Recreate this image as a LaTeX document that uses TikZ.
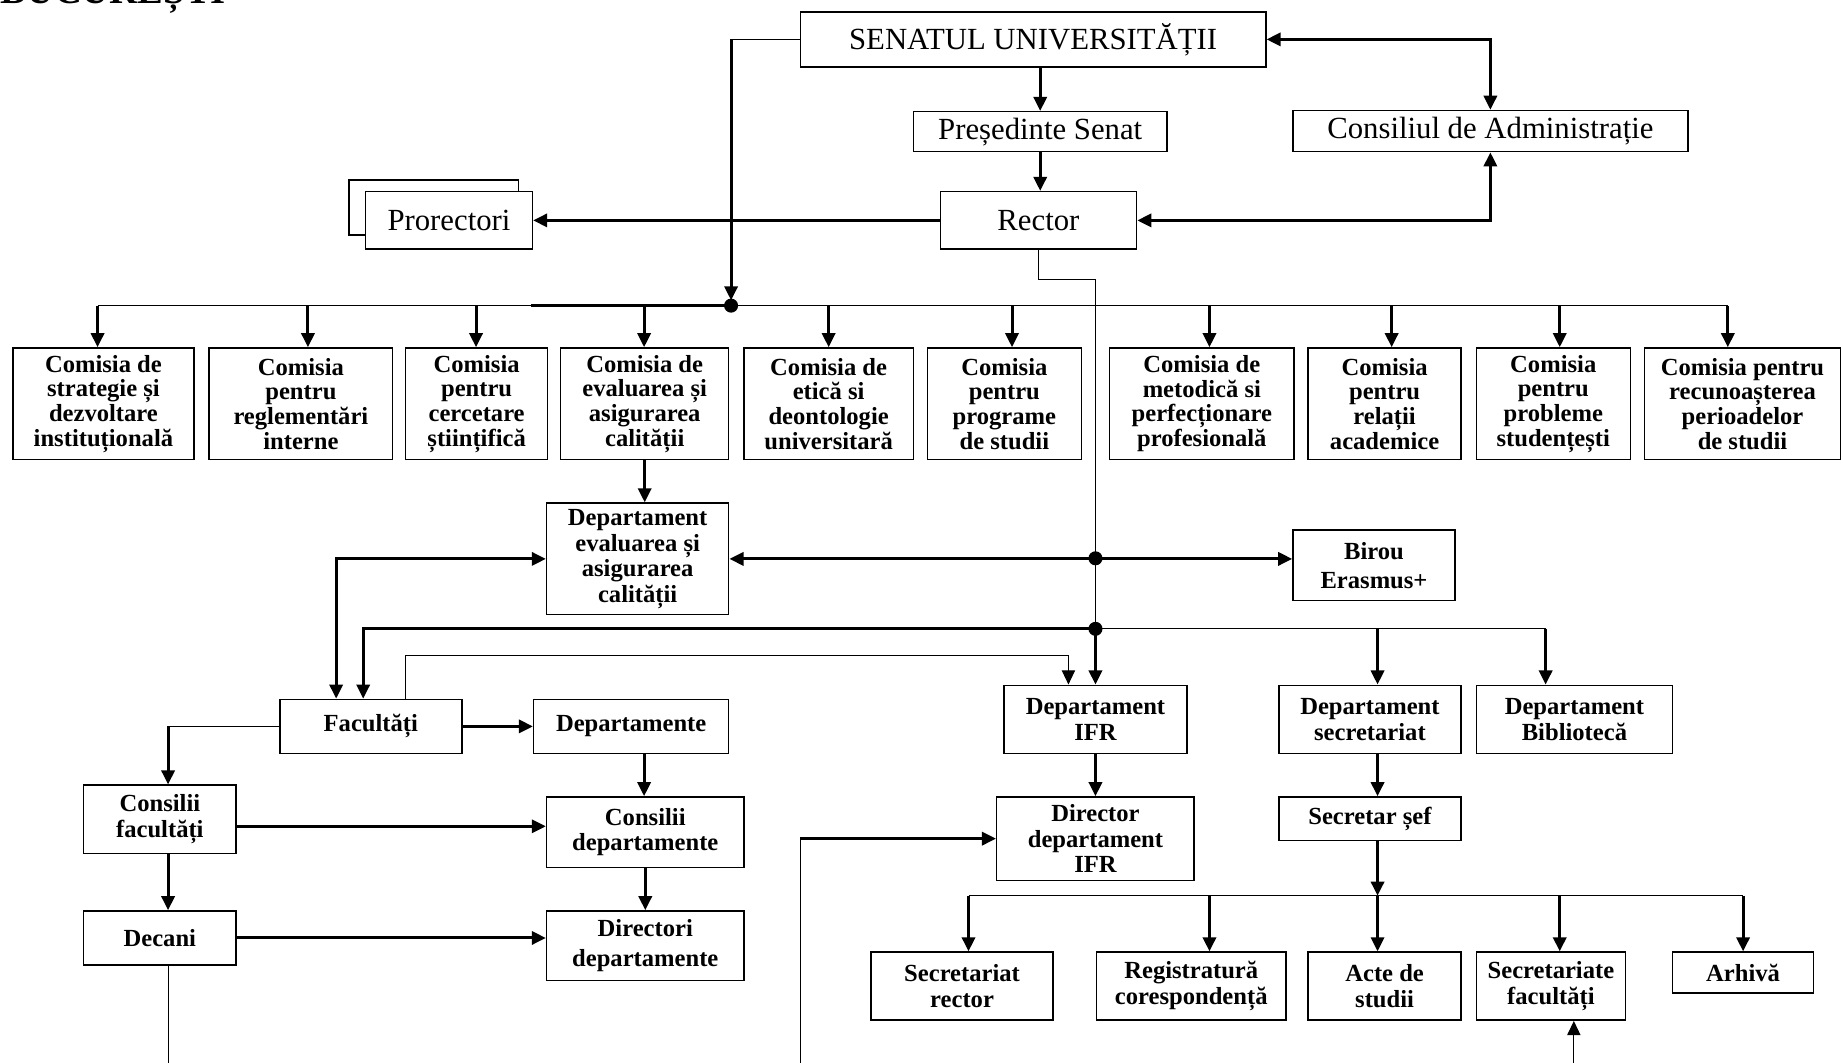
\documentclass[tikz,border=0pt]{standalone}
\usepackage{fontspec}
\setmainfont{Liberation Serif}
\usetikzlibrary{arrows.meta}

\newcommand{\pxu}{0.6689pt}
\newcommand{\topfont}{\fontsize{17.5}{20}\selectfont}
\newcommand{\comfont}{\bfseries\fontsize{14}{14}\selectfont}
\newcommand{\depfont}{\bfseries\fontsize{14}{14.5}\selectfont}

\tikzset{
  box/.style={draw, line width=0.85pt, fill=white, inner sep=0pt, align=center},
  topbox/.style={box, font=\topfont},
  combox/.style={box, font=\comfont},
  depbox/.style={box, font=\depfont},
  sz/.style 2 args={minimum width=#1*\pxu, minimum height=#2*\pxu},
  heavy/.style={line width=1.7pt},
  light/.style={line width=0.6pt},
  >={Triangle[length=8pt,width=7.5pt]}
}

\begin{document}
\begin{tikzpicture}[x=0.02351cm, y=-0.02351cm]
    \useasboundingbox (0,0) rectangle (1568,904);
    \node[anchor=base west, inner sep=0pt, font=\bfseries\fontsize{22}{22}\selectfont] (titlu) at (0,3) {BUCUREȘTI};

    % conducere
    \node[topbox, sz={396}{47}] (senat) at (879,33.5) {SENATUL UNIVERSITĂȚII};
    \node[topbox, sz={216}{34}] (pres) at (885,112) {Președinte Senat};
    \node[topbox, sz={336}{35}] (cadm) at (1268,111.5) {Consiliul de Administrație};
    \node[topbox, sz={167}{49}] (rector) at (883.5,187.5) {Rector};
    \node[topbox, sz={144}{47}] (prorectB) at (369,176.5) {};
    \node[topbox, sz={142}{49}] (prorect) at (382,187.5) {Prorectori};

    \draw[heavy,->] (pres.north |- senat.south) -- (pres.north);
    \draw[heavy,->] (pres.south) -- (pres.south |- rector.north);
    \draw[heavy,<->] (senat.east) -| (cadm.north);
    \draw[heavy,<->] (rector.east) -| (cadm.south);
    \draw[heavy,->] (rector.west) -- (prorect.east);

    % comisii
    \node[combox, sz={154}{95}] (c1) at (88,343.5) {Comisia de\\strategie și\\dezvoltare\\instituțională};
    \node[combox, sz={156}{95}] (c2) at (256,343.5) {Comisia\\pentru\\reglementări\\interne};
    \node[combox, sz={121}{95}] (c3) at (405.5,343.5) {Comisia\\pentru\\cercetare\\științifică};
    \node[combox, sz={143}{95}] (c4) at (548.5,343.5) {Comisia de\\evaluarea și\\asigurarea\\calității};
    \node[combox, sz={144}{95}] (c5) at (705,343.5) {Comisia de\\etică si\\deontologie\\universitară};
    \node[combox, sz={131}{95}] (c6) at (854.5,343.5) {Comisia\\pentru\\programe\\de studii};
    \node[combox, sz={157}{95}] (c7) at (1022.5,343.5) {Comisia de\\metodică si\\perfecționare\\profesională};
    \node[combox, sz={130}{95}] (c8) at (1178,343.5) {Comisia\\pentru\\relații\\academice};
    \node[combox, sz={131}{95}] (c9) at (1321.5,343.5) {Comisia\\pentru\\probleme\\studențești};
    \node[combox, sz={167}{95}] (c10) at (1482.5,343.5) {Comisia pentru\\recunoașterea\\perioadelor\\de studii};

    \coordinate (jtop) at (622,260);
    \coordinate (busL) at (452,260);
    \draw[light] (senat.west) -- (jtop |- senat.west);
    \draw[heavy,->,shorten >=3pt] (jtop |- senat.west) -- (jtop);
    \draw[light] (jtop -| 83,0) -- (jtop -| 1470,0);
    \draw[heavy] (busL) -- (jtop);
    \foreach \c/\x in {c1/83,c2/262,c3/405,c4/548,c5/705,c6/861,c7/1029,c8/1184,c9/1327,c10/1470}
        \draw[heavy,->] (jtop -| \x,0) -- (\c.north -| \x,0);
    \fill (jtop) circle (4pt);

    % departamente
    \node[depbox, sz={155}{95}] (deval) at (542.5,475.5) {Departament\\evaluarea și\\asigurarea\\calității};
    \node[depbox, sz={138}{60}] (erasmus) at (1169,481) {Birou\\[2pt]Erasmus+};
    \node[depbox, sz={155}{46}] (fac) at (315.5,618) {Facultăți};
    \node[depbox, sz={166}{46}] (dep) at (537,618) {Departamente};
    \node[depbox, sz={130}{58}] (cfac) at (136,697) {Consilii\\facultăți};
    \node[depbox, sz={168}{60}] (cdep) at (549,708) {Consilii\\departamente};
    \node[depbox, sz={130}{46}] (decani) at (136,798) {Decani};
    \node[depbox, sz={168}{59}] (dirdep) at (549,804.5) {Directori\\[3pt]departamente};
    \node[depbox, sz={156}{58}] (difr) at (932,612) {Departament\\IFR};
    \node[depbox, sz={168}{71}] (dirifr) at (932,713.5) {Director\\departament\\IFR};
    \node[depbox, sz={155}{58}] (dsec) at (1165.5,612) {Departament\\secretariat};
    \node[depbox, sz={167}{58}] (dbib) at (1339.5,612) {Departament\\Bibliotecă};
    \node[depbox, sz={155}{37}] (sef) at (1165.5,696.5) {Secretar șef};

    \node[depbox, sz={155}{58}] (srect) at (818.5,839) {Secretariat\\rector};
    \node[depbox, sz={161}{58}] (registr) at (1013.5,839) {Registratură\\corespondență};
    \node[depbox, sz={130}{58}] (acte) at (1178,839) {Acte de\\studii};
    \node[depbox, sz={127}{58}] (secfac) at (1319.5,839) {Secretariate\\facultăți};
    \node[depbox, sz={120}{35}] (arhiva) at (1483,827.5) {Arhivă};

    \coordinate (jm1) at (932,475);
    \coordinate (jm2) at (932,535);
    \coordinate (jsec) at (1172,762);
    \coordinate (outA) at (143,904);
    \coordinate (outB) at (681,904);
    \coordinate (outC) at (1339,904);

    \draw[light] (rector.south) -- ++(0,25) -| (jm1);
    \draw[light] (jm1) -- (jm2);
    \draw[heavy,->] (jm2) -- (difr.north);
    \draw[heavy,->] (c4.south) -- (c4.south |- deval.north);
    \draw[heavy,<->] (deval.east) -- (deval.east -| erasmus.west);
    \draw[heavy,<->] (deval.west) -| (fac.north -| 286,0);
    \draw[heavy,->] (jm2) -| (fac.north -| 309,0);
    \draw[light] (jm2) -- (jm2 -| 1315,0);
    \foreach \c/\x in {dsec/1172,dbib/1315}
        \draw[heavy,->] (jm2 -| \x,0) -- (\c.north -| \x,0);
    \draw[light,->] (fac.north -| 345,0) -- ++(0,-37) -| (difr.north -| 909,0);
    \fill (jm1) circle (4pt);
    \fill (jm2) circle (4pt);

    \draw[heavy,->] (fac.east) -- (dep.west);
    \draw[light] (fac.west) -- (fac.west -| 143,0);
    \draw[heavy,->] (fac.west -| 143,0) -- (cfac.north -| 143,0);
    \draw[heavy,->] (dep.south -| 548,0) -- (cdep.north -| 548,0);
    \draw[heavy,->] (cfac.east |- 0,703) -- (cdep.west |- 0,703);
    \draw[heavy,->] (cfac.south -| 143,0) -- (decani.north -| 143,0);
    \draw[heavy,->] (cdep.south) -- (dirdep.north);
    \draw[heavy,->] (decani.east) -- (decani.east -| dirdep.west);
    \draw[light] (decani.south -| outA) -- (outA);

    \draw[heavy,->] (difr.south) -- (dirifr.north);
    \draw[light] (outB) -- (outB |- dirifr.west);
    \draw[heavy,->] (outB |- dirifr.west) -- (dirifr.west);

    % secretariat
    \draw[heavy,->] (dsec.south -| jsec) -- (sef.north -| jsec);
    \draw[heavy,->] (sef.south -| jsec) -- (jsec);
    \draw[light] (jsec -| 824,0) -- (jsec -| 1483,0);
    \foreach \c/\x in {srect/824,registr/1029,acte/1172,secfac/1327,arhiva/1483}
        \draw[heavy,->] (jsec -| \x,0) -- (\c.north -| \x,0);
    \draw[light,->] (outC) -- (secfac.south -| outC);

\end{tikzpicture}
\end{document}
